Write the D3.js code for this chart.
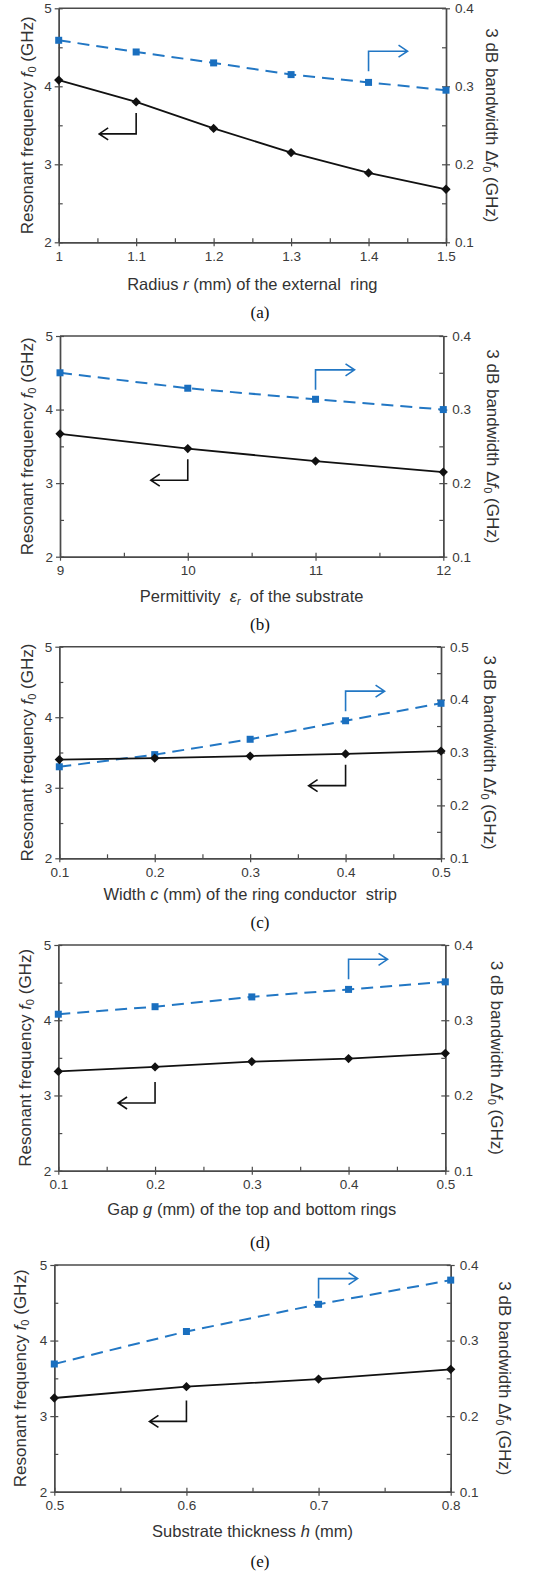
<!DOCTYPE html>
<html>
<head>
<meta charset="utf-8">
<script src="https://cdn.jsdelivr.net/npm/d3@7"></script>
<style>
body { margin: 0; background: #fff; }
text { font-family: "Liberation Sans", Arial, sans-serif; }
</style>
</head>
<body>
<svg id="chart" width="560" height="1573"></svg>
<script>
// panel (a): radius r
const rValues = [1, 1.1, 1.2, 1.3, 1.4, 1.5];
const rFreq = [4.08, 3.80, 3.46, 3.15, 2.89, 2.68];
const rBand = [0.359, 0.344, 0.330, 0.315, 0.305, 0.295];

// panel (b): permittivity
const epsValues = [9, 10, 11, 12];
const epsFreq = [3.67, 3.47, 3.30, 3.15];
const epsBand = [0.350, 0.329, 0.314, 0.300];

// panel (c): width c
const cValues = [0.1, 0.2, 0.3, 0.4, 0.5];
const cFreq = [3.40, 3.42, 3.45, 3.48, 3.52];
const cBand = [0.273, 0.296, 0.325, 0.360, 0.393];

// panel (d): gap g
const gValues = [0.1, 0.2, 0.3, 0.4, 0.5];
const gFreq = [3.32, 3.38, 3.45, 3.49, 3.56];
const gBand = [0.308, 0.318, 0.331, 0.341, 0.351];

// panel (e): thickness h
const hValues = [0.5, 0.6, 0.7, 0.8];
const hFreq = [3.24, 3.39, 3.49, 3.62];
const hBand = [0.269, 0.312, 0.348, 0.380];

const leftTicks = [2, 3, 4, 5];
const rightTicks4 = [0.1, 0.2, 0.3, 0.4];
const rightTicks5 = [0.1, 0.2, 0.3, 0.4, 0.5];

const BLUE = "#2277c4";
const AXIS = "#4a4a4a";
const svg = d3.select("#chart");

const panels = [
  {x: rValues, f: rFreq, b: rBand, xFmt: d3.format(""), rTicks: rightTicks4,
   label: [["Radius "], ["r", "i"], [" (mm) of the external  ring"]], cap: "(a)",
   arrowBlue: [1.4, 0.345], arrowBlack: [1.1, 3.39],
   box: {l: 58.7, r: 446, t: 8.3, b: 242.3, xl: 290, cap: 318, lt: 27, rt: 492}},
  {x: epsValues, f: epsFreq, b: epsBand, xFmt: d3.format(""), rTicks: rightTicks4,
   label: [["Permittivity  "], ["ε", "i"], ["r", "is"], ["  of the substrate", "up"]], cap: "(b)",
   arrowBlue: [11, 0.354], arrowBlack: [10, 3.04],
   box: {l: 60, r: 443.3, t: 336, b: 556.7, xl: 602, cap: 630, lt: 27, rt: 493}},
  {x: cValues, f: cFreq, b: cBand, xFmt: d3.format(".1f"), rTicks: rightTicks5,
   label: [["Width "], ["c", "i"], [" (mm) of the ring conductor  strip"]], cap: "(c)",
   arrowBlue: [0.4, 0.416], arrowBlack: [0.4, 3.03],
   box: {l: 59.3, r: 441, t: 646.7, b: 858.3, xl: 900, cap: 928, lt: 27, rt: 490}},
  {x: gValues, f: gFreq, b: gBand, xFmt: d3.format(".1f"), rTicks: rightTicks4,
   label: [["Gap "], ["g", "i"], [" (mm) of the top and bottom rings"]], cap: "(d)",
   arrowBlue: [0.4, 0.381], arrowBlack: [0.2, 2.90],
   box: {l: 58.3, r: 445.3, t: 945, b: 1170.7, xl: 1215, cap: 1248, lt: 25, rt: 497}},
  {x: hValues, f: hFreq, b: hBand, xFmt: d3.format(".1f"), rTicks: rightTicks4,
   label: [["Substrate thickness "], ["h", "i"], [" (mm)"]], cap: "(e)",
   arrowBlue: [0.7, 0.382], arrowBlack: [0.6, 2.93],
   box: {l: 54.3, r: 450.7, t: 1265, b: 1491.7, xl: 1537, cap: 1567, lt: 20, rt: 505}}
];

function halves(ticks) {
  let out = [];
  for (let i = 0; i < ticks.length - 1; i++) out.push((ticks[i] + ticks[i + 1]) / 2);
  return out;
}

function styleAxis(g) {
  g.selectAll("path").attr("stroke", AXIS).attr("stroke-width", 1.4);
  g.selectAll("line").attr("stroke", AXIS).attr("stroke-width", 1.2);
  g.selectAll("text").attr("fill", "#3a3a3a").style("font-size", "13.5px");
}

function drawPanel(p) {
  let bx = p.box;
  let x = d3.scaleLinear().domain(d3.extent(p.x)).range([bx.l, bx.r]);
  let yL = d3.scaleLinear().domain(d3.extent(leftTicks)).range([bx.b, bx.t]);
  let yR = d3.scaleLinear().domain(d3.extent(p.rTicks)).range([bx.b, bx.t]);
  let g = svg.append("g");

  // top frame line
  g.append("line").attr("x1", bx.l).attr("x2", bx.r).attr("y1", bx.t).attr("y2", bx.t)
    .attr("stroke", AXIS).attr("stroke-width", 1.4);

  // left axis (major ticks cross the line, minor ticks inside)
  g.append("g").attr("transform", "translate(" + bx.l + ",0)")
    .call(d3.axisLeft(yL).tickValues(leftTicks).tickSize(4).tickPadding(3).tickFormat(d3.format("d")).tickSizeOuter(0)).call(styleAxis);
  g.append("g").attr("transform", "translate(" + bx.l + ",0)")
    .call(d3.axisLeft(yL).tickValues(leftTicks.concat(halves(leftTicks))).tickSize(-4).tickFormat("").tickSizeOuter(0)).call(styleAxis);

  // right axis
  g.append("g").attr("transform", "translate(" + bx.r + ",0)")
    .call(d3.axisRight(yR).tickValues(p.rTicks).tickSize(4).tickPadding(5).tickFormat(d3.format(".1f")).tickSizeOuter(0)).call(styleAxis);
  g.append("g").attr("transform", "translate(" + bx.r + ",0)")
    .call(d3.axisRight(yR).tickValues(p.rTicks.concat(halves(p.rTicks))).tickSize(-4).tickFormat("").tickSizeOuter(0)).call(styleAxis);

  // bottom axis
  g.append("g").attr("transform", "translate(0," + bx.b + ")")
    .call(d3.axisBottom(x).tickValues(p.x).tickSize(4).tickPadding(5).tickFormat(p.xFmt).tickSizeOuter(0)).call(styleAxis);
  g.append("g").attr("transform", "translate(0," + bx.b + ")")
    .call(d3.axisBottom(x).tickValues(p.x.concat(halves(p.x))).tickSize(-4).tickFormat("").tickSizeOuter(0)).call(styleAxis);

  // blue dashed bandwidth line
  let bandPts = p.x.map((d, i) => [d, p.b[i]]);
  g.append("path").datum(bandPts)
    .attr("fill", "none").attr("stroke", BLUE).attr("stroke-width", 2)
    .attr("stroke-dasharray", "12,7")
    .attr("d", d3.line().x(d => x(d[0])).y(d => yR(d[1])));
  g.selectAll(".sq").data(bandPts).enter().append("rect")
    .attr("x", d => x(d[0]) - 3.5).attr("y", d => yR(d[1]) - 3.5)
    .attr("width", 7).attr("height", 7).attr("fill", "#1a6fbf");

  // black frequency line
  let freqPts = p.x.map((d, i) => [d, p.f[i]]);
  g.append("path").datum(freqPts)
    .attr("fill", "none").attr("stroke", "#111").attr("stroke-width", 1.8)
    .attr("d", d3.line().x(d => x(d[0])).y(d => yL(d[1])));
  g.selectAll(".dm").data(freqPts).enter().append("path")
    .attr("transform", d => "translate(" + x(d[0]) + "," + yL(d[1]) + ")")
    .attr("d", d3.symbol().type(d3.symbolDiamond2).size(55)).attr("fill", "#111");

  // arrows pointing to the matching axis
  let bxp = x(p.arrowBlue[0]), byp = yR(p.arrowBlue[1]);
  g.append("path").attr("fill", "none").attr("stroke", BLUE).attr("stroke-width", 1.6)
    .attr("d", "M" + bxp + "," + (byp + 20) + "V" + byp + "H" + (bxp + 39)
      + "M" + (bxp + 30) + "," + (byp - 6) + "L" + (bxp + 39) + "," + byp + "L" + (bxp + 30) + "," + (byp + 6));
  let kxp = x(p.arrowBlack[0]), kyp = yL(p.arrowBlack[1]);
  g.append("path").attr("fill", "none").attr("stroke", "#111").attr("stroke-width", 1.6)
    .attr("d", "M" + kxp + "," + (kyp - 21) + "V" + kyp + "H" + (kxp - 37)
      + "M" + (kxp - 28) + "," + (kyp - 6) + "L" + (kxp - 37) + "," + kyp + "L" + (kxp - 28) + "," + (kyp + 6));

  // x label
  let xl = g.append("text").attr("x", (bx.l + bx.r) / 2).attr("y", bx.xl)
    .attr("text-anchor", "middle").attr("fill", "#333").style("font-size", "16.5px")
    .style("white-space", "pre");
  p.label.forEach(part => {
    let t = xl.append("tspan").text(part[0]);
    if (part[1] === "i") t.style("font-style", "italic");
    if (part[1] === "is") t.style("font-style", "italic").style("font-size", "11px").attr("dy", 3);
    if (part[1] === "up") t.attr("dy", -3);
  });

  // left title
  let cy = (bx.t + bx.b) / 2;
  let lt = g.append("text").attr("transform", "translate(" + bx.lt + "," + cy + ") rotate(-90)")
    .attr("text-anchor", "middle").attr("dy", "0.35em").attr("fill", "#333").style("font-size", "17px");
  lt.append("tspan").text("Resonant frequency ");
  lt.append("tspan").text("f").style("font-style", "italic");
  lt.append("tspan").text("0").style("font-size", "11px").attr("dy", 3);
  lt.append("tspan").text(" (GHz)").attr("dy", -3);

  // right title
  let rt = g.append("text").attr("transform", "translate(" + bx.rt + "," + cy + ") rotate(90)")
    .attr("text-anchor", "middle").attr("dy", "0.35em").attr("fill", "#333").style("font-size", "17px");
  rt.append("tspan").text("3 dB bandwidth Δ");
  rt.append("tspan").text("f").style("font-style", "italic");
  rt.append("tspan").text("0").style("font-size", "11px").attr("dy", 3);
  rt.append("tspan").text(" (GHz)").attr("dy", -3);

  // caption
  g.append("text").attr("x", 260).attr("y", bx.cap).attr("text-anchor", "middle")
    .attr("fill", "#111").style("font-family", "'Liberation Serif', 'Times New Roman', serif")
    .style("font-size", "17px").text(p.cap);
}

panels.forEach(drawPanel);
</script>
</body>
</html>
